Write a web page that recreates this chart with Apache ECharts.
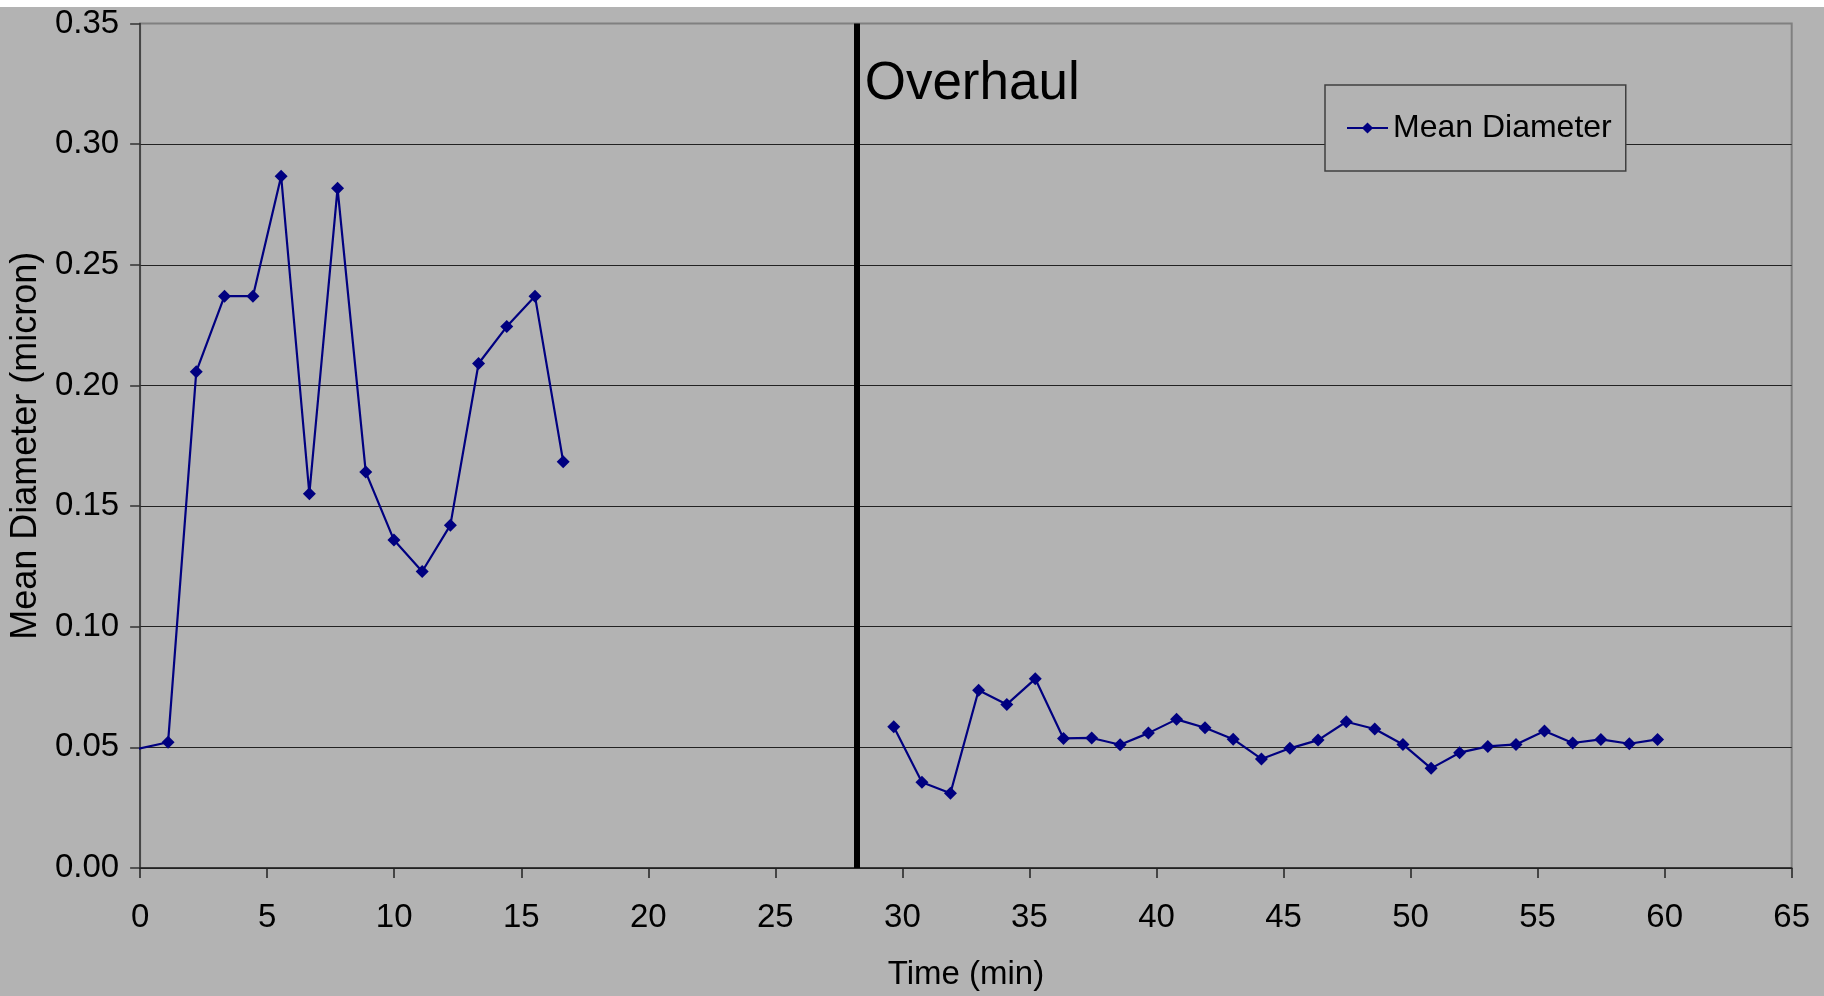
<!DOCTYPE html>
<html>
<head>
<meta charset="utf-8">
<script src="https://cdn.jsdelivr.net/npm/echarts@6/dist/echarts.min.js"></script>
<style>
  html, body { margin: 0; padding: 0; background: #ffffff; }
  #chart { position: absolute; left: 0; top: 7px; width: 1824px; height: 989px; }
</style>
</head>
<body>
<div id="chart"></div>
<script>
// Before overhaul (time in min, mean diameter in micron)
const timeBefore = [-1.1, 1.1, 2.21, 3.32, 4.44, 5.55, 6.66, 7.77, 8.88, 9.99, 11.1, 12.21, 13.32, 14.43, 15.54, 16.65];
const diamBefore = [0.047, 0.0521, 0.2057, 0.2370, 0.2370, 0.2867, 0.1551, 0.2817, 0.1641, 0.1359, 0.1229, 0.1421, 0.2091, 0.2244, 0.2370, 0.1684];
// After overhaul
const timeAfter = [29.66, 30.77, 31.89, 33.00, 34.11, 35.23, 36.34, 37.45, 38.57, 39.68, 40.79, 41.91, 43.02, 44.13, 45.25, 46.36, 47.47, 48.59, 49.70, 50.81, 51.93, 53.04, 54.15, 55.27, 56.38, 57.49, 58.61, 59.72];
const diamAfter = [0.0585, 0.0355, 0.0310, 0.0737, 0.0678, 0.0784, 0.0537, 0.0539, 0.0511, 0.0559, 0.0616, 0.0581, 0.0534, 0.0452, 0.0496, 0.0530, 0.0606, 0.0576, 0.0512, 0.0413, 0.0478, 0.0504, 0.0512, 0.0568, 0.0518, 0.0533, 0.0515, 0.0533];
const overhaulTime = 28.2;
const overhaulLabelY = 0.3249;
const seriesName = 'Mean Diameter';
const overhaulText = 'Overhaul';
const xTitle = 'Time (min)';
const yTitle = 'Mean Diameter (micron)';

const FONT = 'Liberation Sans';
const NAVY = '#000080';
const GRAY_BG = '#b3b3b3';

const chart = echarts.init(document.getElementById('chart'));
const baseSeries = {
  type: 'line',
  name: seriesName,
  symbol: 'diamond',
  symbolSize: 13,
  clip: true,
  color: NAVY,
  itemStyle: { color: NAVY },
  lineStyle: { color: NAVY, width: 2.2 },
  animation: false
};
chart.setOption({
  backgroundColor: GRAY_BG,
  animation: false,
  textStyle: { fontFamily: FONT, color: '#000' },
  grid: {
    left: 139.7, right: 32.3, top: 14.7, bottom: 127.9,
    show: true, borderColor: '#808080', borderWidth: 2, backgroundColor: 'transparent'
  },
  legend: {
    left: 1325, top: 78,
    padding: [27, 14, 27, 21],
    itemWidth: 41, itemHeight: 14, itemGap: 8,
    backgroundColor: GRAY_BG,
    borderColor: '#404040', borderWidth: 1.5,
    textStyle: { fontFamily: FONT, fontSize: 32, color: '#000' },
    data: [seriesName]
  },
  xAxis: {
    type: 'value', min: 0, max: 65, interval: 5,
    name: xTitle, nameLocation: 'middle', nameGap: 90,
    nameTextStyle: { fontFamily: FONT, fontSize: 33, color: '#000' },
    axisLine: { show: true, onZero: false, lineStyle: { color: '#222', width: 1.5 } },
    axisTick: { show: true, inside: false, length: 10, lineStyle: { color: '#222', width: 1.5 } },
    axisLabel: { fontFamily: FONT, fontSize: 33, color: '#000', margin: 33 },
    splitLine: { show: false }
  },
  yAxis: {
    type: 'value', min: 0, max: 0.35, interval: 0.05,
    name: yTitle, nameLocation: 'middle', nameGap: 92, nameRotate: 90,
    nameTextStyle: { fontFamily: FONT, fontSize: 36, color: '#000', padding: [0, 0, 0, 0] },
    axisLine: { show: true, lineStyle: { color: '#333', width: 1.5 } },
    axisTick: { show: true, inside: false, length: 10, lineStyle: { color: '#333', width: 1.5 } },
    axisLabel: { fontFamily: FONT, fontSize: 33, color: '#000', margin: 21, formatter: v => v.toFixed(2) },
    splitLine: { show: true, lineStyle: { color: ['#222', '#222', '#222', '#222', '#222', '#222', '#222', '#808080'], width: 1.2 } }
  },
  series: [
    Object.assign({}, baseSeries, {
      data: timeBefore.map((t, i) => [t, diamBefore[i]]),
      markLine: {
        silent: true, symbol: ['none', 'none'],
        lineStyle: { color: '#000', width: 6, type: 'solid' },
        label: { show: false },
        data: [{ xAxis: overhaulTime }]
      },
      markPoint: {
        silent: true, symbol: 'circle', symbolSize: 0,
        itemStyle: { color: 'transparent' },
        label: { show: true, position: 'right', distance: 8, formatter: overhaulText,
                 fontFamily: FONT, fontSize: 53, color: '#000' },
        data: [{ coord: [overhaulTime, overhaulLabelY] }]
      }
    }),
    Object.assign({}, baseSeries, {
      data: timeAfter.map((t, i) => [t, diamAfter[i]])
    })
  ]
});
</script>
</body>
</html>
